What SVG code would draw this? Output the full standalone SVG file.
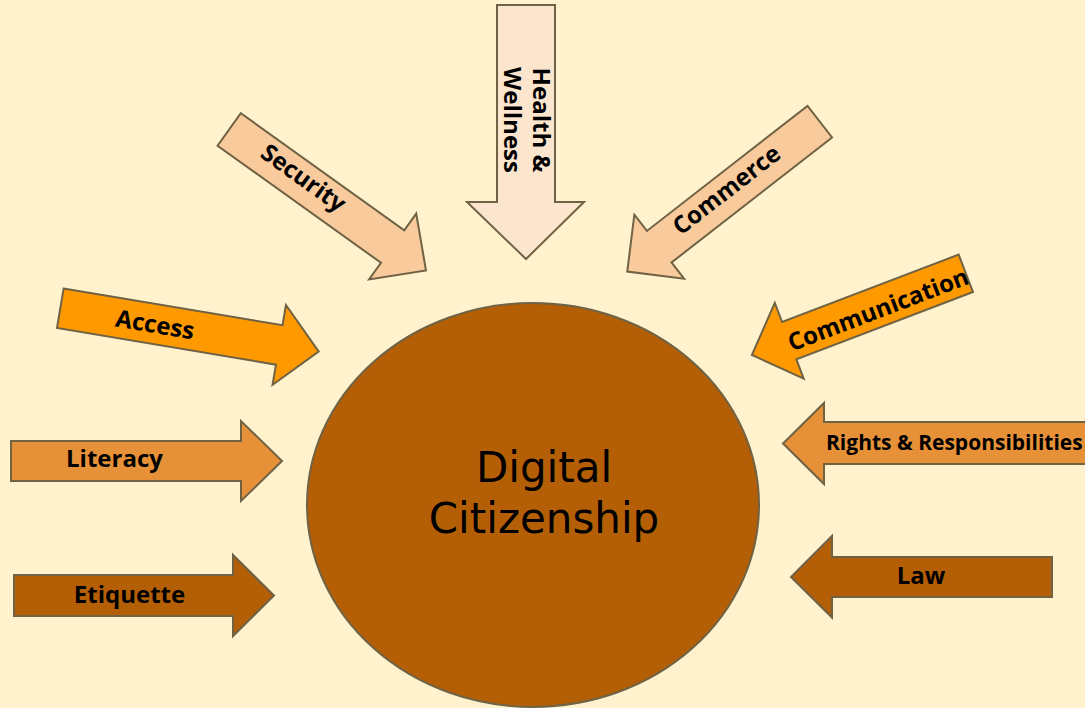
<svg xmlns="http://www.w3.org/2000/svg" width="1085" height="708" viewBox="0 0 1085 708">
<style>
.arr{stroke:#6f6245;stroke-width:2;stroke-linejoin:miter}
.lbl{font-family:"Open Sans","Noto Sans","Liberation Sans",sans-serif;font-weight:bold;font-size:24px;fill:#000;text-anchor:middle}
.c1{fill:#F9CB9C}.c2{fill:#FCE5CD}.c3{fill:#FF9900}.c4{fill:#E69138}.c5{fill:#B45F06}
.center{font-family:"DejaVu Sans","Liberation Sans",sans-serif;font-size:42px;fill:#000;text-anchor:middle}
</style>
<rect x="0" y="0" width="1085" height="708" fill="#FFF2CC"/>
<g id="center-node">
<ellipse cx="533" cy="505" rx="226" ry="202" fill="#B45F06" stroke="#6f6245" stroke-width="2"/>
<text class="center" x="544" y="482">Digital</text>
<text class="center" x="544" y="533">Citizenship</text>
</g>
<g id="connectors"></g>
<g id="health">
<path class="arr c2" d="M497,5 H555 V202 H584 L526,259 L467,202 H497 Z"/>
<g transform="translate(518.5,120) rotate(90)">
<text class="lbl" x="0" y="-14.2">Health &amp;</text>
<text class="lbl" x="0" y="14.2">Wellness</text>
</g>
</g>
<g id="security">
<path class="arr c1" transform="translate(229.2,129.5) rotate(35.6)" d="M0,-20 H201 V-40.5 L242,0 L201,40.5 V20 H0 Z"/>
<text class="lbl" transform="translate(303.3,178.3) rotate(35.6)" x="0" y="8">Security</text>
</g>
<g id="commerce">
<path class="arr c1" transform="translate(819.8,121.7) rotate(142.1)" d="M0,-20 H203.5 V-40.5 L244,0 L203.5,40.5 V20 H0 Z"/>
<text class="lbl" transform="translate(726.7,190) rotate(-37.9)" x="0" y="8">Commerce</text>
</g>
<g id="access">
<path class="arr c3" transform="translate(60.3,308.3) rotate(9.5)" d="M0,-20 H222 V-40.5 L262,0 L222,40.5 V20 H0 Z"/>
<text class="lbl" transform="translate(155,325) rotate(9.5)" x="0" y="8">Access</text>
</g>
<g id="communication">
<path class="arr c3" transform="translate(965.8,273.3) rotate(159.1)" d="M0,-20 H189 V-40.5 L229,0 L189,40.5 V20 H0 Z"/>
<text class="lbl" transform="translate(878.3,310) rotate(-20.9)" x="0" y="8">Communication</text>
</g>
<g id="literacy">
<path class="arr c4" d="M11,441 H241 V421 L282,461 L241,501 V481 H11 Z"/>
<text class="lbl" x="114.5" y="467">Literacy</text>
</g>
<g id="etiquette">
<path class="arr c5" d="M14,575 H233 V555 L274,595.5 L233,636 V616 H14 Z"/>
<text class="lbl" x="129.5" y="602.5">Etiquette</text>
</g>
<g id="rights">
<path class="arr c4" d="M1100,422 H824 V403 L783,443.5 L824,484 V464 H1100 Z"/>
<text class="lbl" x="826" y="450" style="text-anchor:start;font-size:21px">Rights &amp; Responsibilities</text>
</g>
<g id="law">
<path class="arr c5" d="M1052,557 H832 V536 L791,577 L832,617.5 V597 H1052 Z"/>
<text class="lbl" x="921" y="584">Law</text>
</g>
</svg>
